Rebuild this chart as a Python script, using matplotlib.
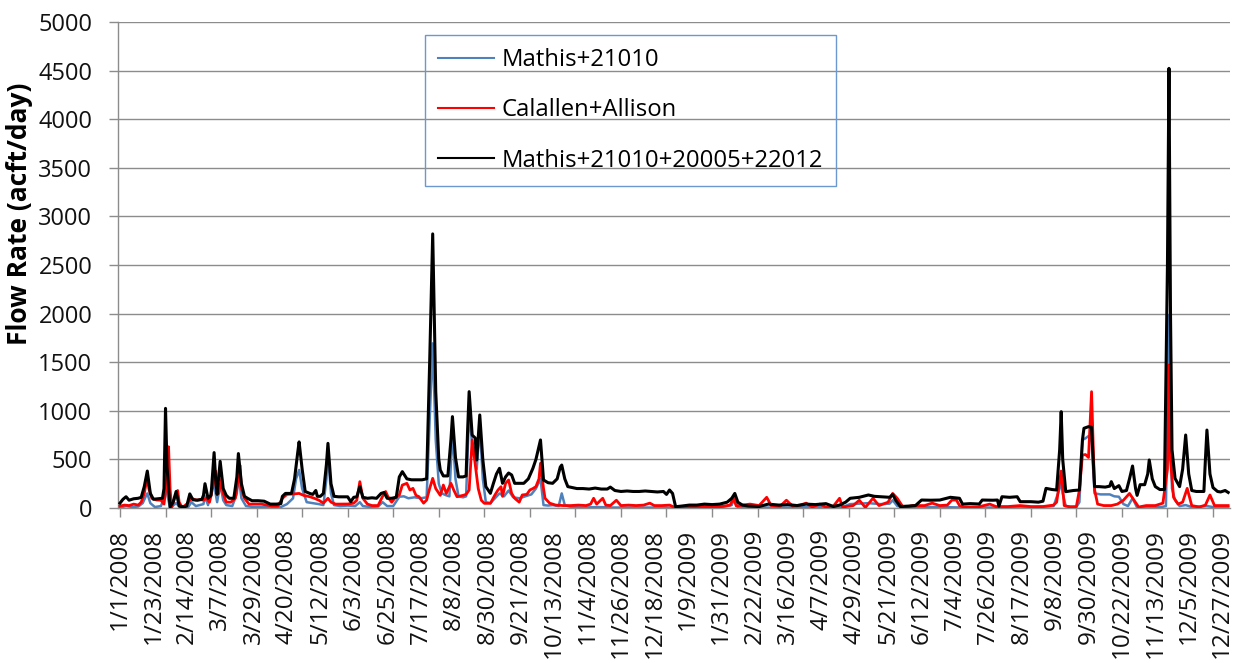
import datetime as dt
import matplotlib
matplotlib.use("Agg")
import matplotlib.pyplot as plt

plt.rcParams['font.family'] = ['Open Sans', 'DejaVu Sans']

# day index = days since 1/1/2008
black_day = [0, 2, 4, 6, 9, 12, 14, 16, 18, 20, 22, 25, 28, 29, 30, 31, 33, 35, 37, 39, 42, 44, 46, 48, 51, 54, 55, 56, 58, 60,
             62, 63, 64, 66, 68, 70, 72, 75, 77, 78, 80, 82, 84, 87, 91, 95, 99, 103, 106, 107, 109, 113, 115, 117, 118, 120, 122, 125, 127, 129,
             130, 132, 134, 136, 137, 139, 141, 144, 147, 150, 152, 154, 156, 158, 160, 163, 166, 169, 172, 174, 176, 179, 182, 184, 186, 189, 192, 195, 199, 202,
             204, 206, 208, 210, 211, 213, 216, 218, 219, 221, 223, 226, 228, 229, 230, 232, 234, 235, 237, 239, 241, 244, 246, 248, 250, 252, 254, 256, 258, 260,
             263, 266, 269, 272, 274, 277, 279, 282, 285, 288, 290, 291, 293, 295, 298, 301, 305, 309, 313, 317, 321, 323, 326, 330, 334, 338, 342, 346, 350, 354,
             358, 360, 362, 364, 366, 370, 375, 380, 385, 390, 395, 400, 403, 405, 407, 410, 414, 421, 427, 434, 440, 446, 452, 458, 465, 470, 474, 478, 481, 487,
             493, 497, 501, 507, 509, 511, 514, 520, 524, 528, 534, 540, 547, 553, 555, 560, 566, 568, 575, 578, 579, 581, 586, 591, 593, 600, 605, 608, 610, 614,
             617, 619, 620, 621, 623, 628, 632, 634, 635, 638, 640, 642, 645, 649, 652, 653, 655, 658, 660, 663, 665, 667, 669, 670, 672, 675, 677, 678, 680, 682,
             685, 688, 690, 691, 692, 693, 695, 698, 700, 702, 704, 706, 709, 714, 715, 716, 718, 720, 723, 725, 728, 730]
black_val = [50, 90, 116, 80, 95, 100, 110, 220, 380, 150, 90, 95, 100, 200, 1025, 420, 10, 60, 170, 20, 10, 20, 145, 85, 80, 90, 130, 250, 100, 130,
             570, 300, 140, 480, 200, 130, 100, 100, 320, 560, 250, 120, 100, 75, 75, 70, 40, 40, 45, 120, 150, 150, 300, 560, 680, 400, 170, 150, 140, 180,
             120, 120, 150, 450, 665, 250, 120, 115, 115, 115, 65, 110, 115, 220, 110, 100, 105, 100, 150, 160, 100, 100, 110, 320, 374, 300, 290, 290, 290, 300,
             1500, 2820, 1200, 500, 390, 330, 330, 700, 940, 520, 320, 320, 330, 800, 1197, 750, 720, 494, 957, 500, 220, 151, 254, 350, 408, 254, 320, 360, 340, 254,
             254, 254, 300, 408, 500, 700, 288, 260, 254, 300, 420, 442, 300, 220, 210, 200, 200, 195, 205, 195, 195, 215, 180, 170, 175, 170, 170, 175, 170, 165,
             170, 140, 185, 150, 13, 20, 30, 30, 40, 35, 40, 60, 100, 150, 60, 30, 20, 15, 40, 30, 35, 25, 40, 35, 45, 15, 30, 60, 100, 110,
             134, 120, 116, 110, 140, 80, 15, 20, 25, 82, 80, 82, 110, 100, 40, 45, 41, 82, 80, 82, 20, 116, 110, 116, 65, 65, 60, 70, 202, 190,
             185, 600, 991, 500, 168, 180, 185, 700, 820, 837, 830, 220, 220, 215, 225, 271, 200, 230, 170, 180, 300, 432, 200, 130, 240, 240, 350, 494, 300, 220,
             190, 190, 2500, 4523, 2000, 600, 305, 220, 400, 751, 350, 180, 170, 170, 500, 802, 350, 210, 170, 165, 180, 160]

red_day = [0, 3, 6, 9, 12, 14, 16, 18, 19, 21, 24, 27, 29, 31, 32, 33, 34, 36, 38, 39, 41, 44, 47, 50, 53, 55, 57, 59, 61, 63,
           65, 67, 68, 70, 73, 76, 78, 79, 80, 82, 85, 89, 93, 97, 100, 104, 107, 110, 114, 118, 121, 125, 128, 131, 134, 137, 139, 142, 146, 150,
           154, 156, 158, 160, 163, 166, 170, 173, 175, 177, 179, 182, 184, 186, 189, 191, 193, 195, 197, 200, 202, 204, 206, 208, 211, 213, 215, 218, 220, 222,
           226, 228, 230, 232, 234, 236, 238, 240, 244, 247, 249, 251, 252, 254, 256, 258, 260, 263, 265, 268, 270, 272, 274, 276, 277, 279, 280, 283, 287, 292,
           297, 302, 307, 310, 312, 314, 318, 320, 323, 327, 330, 335, 340, 345, 349, 352, 357, 362, 365, 367, 372, 380, 388, 396, 402, 404, 406, 410, 415, 421,
           426, 429, 435, 439, 443, 448, 452, 456, 461, 465, 470, 474, 476, 483, 487, 491, 496, 500, 506, 509, 512, 516, 522, 530, 535, 540, 545, 548, 551, 553,
           556, 565, 573, 577, 585, 593, 600, 608, 615, 617, 620, 622, 626, 630, 632, 634, 636, 638, 640, 642, 644, 648, 653, 657, 661, 665, 668, 671, 676, 682,
           687, 690, 691, 692, 694, 697, 700, 703, 706, 711, 715, 718, 721, 725, 730]
red_val = [20, 30, 25, 40, 30, 60, 150, 322, 200, 100, 82, 80, 40, 300, 630, 200, 5, 100, 180, 60, 5, 40, 100, 82, 85, 82, 100, 60, 200, 380,
           150, 300, 150, 60, 60, 100, 300, 440, 200, 100, 40, 40, 40, 30, 20, 20, 100, 140, 144, 150, 130, 116, 100, 80, 50, 100, 60, 40, 41, 41,
           50, 80, 271, 100, 40, 25, 25, 120, 170, 100, 60, 120, 134, 236, 254, 185, 202, 130, 116, 50, 82, 200, 305, 200, 130, 236, 150, 254, 180, 116,
           130, 140, 185, 700, 450, 200, 80, 48, 48, 134, 185, 219, 120, 254, 288, 150, 100, 60, 134, 140, 185, 200, 220, 300, 460, 200, 100, 50, 30, 25,
           25, 30, 25, 40, 100, 40, 100, 30, 25, 80, 25, 30, 25, 30, 50, 25, 25, 30, 10, 0, 10, 15, 15, 15, 30, 100, 20, 30, 40, 25,
           110, 25, 20, 80, 20, 30, 50, 10, 40, 10, 20, 100, 10, 25, 80, 5, 100, 25, 60, 150, 100, 5, 25, 25, 50, 25, 30, 82, 82, 25,
           10, 10, 40, 15, 15, 25, 15, 15, 30, 60, 380, 25, 10, 15, 185, 545, 550, 520, 1197, 185, 40, 25, 25, 40, 80, 150, 80, 10, 25, 25,
           50, 400, 1471, 500, 110, 40, 60, 202, 25, 10, 30, 134, 25, 25, 25]

blue_day = [0, 4, 8, 12, 15, 17, 18, 20, 23, 27, 29, 30, 31, 33, 37, 40, 45, 47, 50, 55, 56, 58, 62, 63, 64, 66, 68, 70, 74, 77,
            78, 80, 83, 88, 95, 100, 106, 110, 114, 116, 118, 120, 123, 127, 131, 134, 136, 137, 139, 141, 145, 150, 155, 158, 160, 165, 170, 173, 176, 180,
            184, 187, 190, 194, 198, 202, 204, 206, 208, 210, 212, 215, 217, 219, 221, 223, 226, 228, 230, 232, 234, 235, 237, 239, 241, 244, 247, 250, 253, 256,
            259, 263, 267, 271, 274, 277, 279, 282, 285, 289, 291, 293, 297, 305, 315, 325, 340, 360, 366, 380, 395, 403, 405, 407, 420, 440, 460, 475, 481, 493,
            501, 507, 509, 512, 520, 540, 555, 575, 600, 615, 619, 620, 621, 623, 630, 632, 634, 636, 638, 640, 642, 646, 652, 655, 658, 661, 664, 667, 670, 676,
            686, 689, 690, 691, 692, 693, 695, 698, 702, 706, 716, 720, 730]
blue_val = [5, 20, 10, 15, 50, 120, 150, 50, 10, 20, 100, 450, 150, 0, 50, 0, 10, 60, 20, 40, 120, 30, 300, 150, 60, 250, 80, 30, 20, 150,
            350, 100, 20, 10, 10, 5, 10, 40, 100, 300, 391, 200, 60, 50, 40, 30, 300, 560, 150, 30, 20, 25, 20, 60, 20, 10, 15, 60, 20, 20,
            116, 120, 100, 110, 100, 110, 900, 1694, 700, 250, 150, 130, 120, 800, 300, 120, 110, 120, 1000, 650, 600, 400, 850, 300, 60, 50, 100, 150, 120, 180,
            110, 100, 120, 140, 200, 300, 30, 25, 30, 20, 150, 30, 10, 5, 10, 5, 5, 5, 0, 0, 5, 30, 116, 10, 5, 5, 10, 5, 40, 50,
            40, 45, 80, 20, 5, 10, 5, 5, 5, 20, 200, 300, 150, 20, 10, 60, 700, 717, 740, 680, 150, 140, 140, 120, 116, 40, 20, 100, 5, 10,
            10, 20, 1000, 1985, 700, 200, 80, 20, 30, 10, 20, 10, 10]

series_names = ['Mathis+21010', 'Calallen+Allison', 'Mathis+21010+20005+22012']
start = dt.date(2008, 1, 1)
label_days = list(range(0, 727, 22))
tick_labels = []
for d in label_days:
    t = start + dt.timedelta(days=d)
    tick_labels.append('%d/%d/%d' % (t.month, t.day, t.year))

fig = plt.figure(figsize=(12.42, 6.63), dpi=100)
ax = fig.add_axes([118 / 1242, 1 - 508 / 663, 1112 / 1242, 486 / 663])

ax.plot(blue_day, blue_val, color='#4F81BD', lw=1.8, label=series_names[0], zorder=3)
ax.plot(red_day, red_val, color='#FF0000', lw=2.0, label=series_names[1], zorder=4)
ax.plot(black_day, black_val, color='#000000', lw=2.2, label=series_names[2], zorder=5)

ax.set_xlim(-1.3, 731.2)
ax.set_ylim(0, 5000)
ax.set_yticks(range(0, 5001, 500))
ax.yaxis.grid(True, color='#8C8C8C', lw=1.0)
ax.set_axisbelow(True)

# labels every 22 days (major, no mark), tick marks every 30 days (minor)
ax.xaxis.remove_overlapping_locs = False
ax.set_xticks(label_days, tick_labels, rotation=90)
ax.set_xticks(range(0, 731, 30), minor=True)
ax.tick_params(axis='x', which='minor', length=6.5, width=1, color='#8C8C8C', direction='out')
ax.tick_params(axis='x', which='major', length=0, pad=15, labelsize=17.5, labelcolor='#111111')
ax.tick_params(axis='y', length=6.5, width=1, color='#8C8C8C', pad=12, labelsize=17, labelcolor='#111111')

for s in ['top', 'right']:
    ax.spines[s].set_visible(False)
for s in ['left', 'bottom']:
    ax.spines[s].set_color('#8C8C8C')
    ax.spines[s].set_linewidth(1)

ax.set_ylabel('Flow Rate (acft/day)', fontsize=19, fontweight='bold')
ax.yaxis.set_label_coords(-0.076, 0.605)

leg = ax.legend(loc='upper left', bbox_to_anchor=(425 / 1242, 1 - 35 / 663), bbox_transform=fig.transFigure,
                fontsize=17.2, frameon=True, fancybox=False, edgecolor='#6C97CF', facecolor='none',
                framealpha=1, borderpad=0.55, labelspacing=1.1, handlelength=2.35, handletextpad=0.3,
                borderaxespad=0)
leg.get_frame().set_linewidth(1.0)
for h in leg.get_lines():
    h.set_linewidth(1.5)

fig.savefig('out.png', dpi=100)
